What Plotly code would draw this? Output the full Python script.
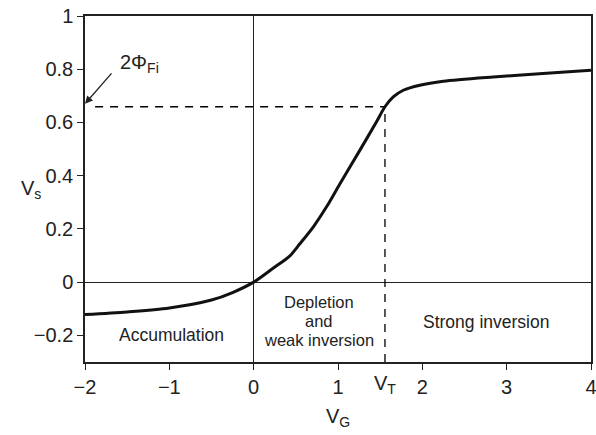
import plotly.graph_objects as go

# Data
vg = [-2.0, -1.5, -1.0, -0.5, -0.25, 0.0, 0.23, 0.43, 0.55, 0.71, 0.866, 1.02, 1.26, 1.457, 1.557,
      1.655, 1.774, 1.97, 2.25, 2.84, 3.43, 4.0]
vs = [-0.122, -0.112, -0.097, -0.067, -0.039, 0.0, 0.052, 0.099, 0.145, 0.209, 0.284, 0.368, 0.496, 0.603, 0.659,
      0.696, 0.721, 0.74, 0.755, 0.771, 0.784, 0.796]
VT = 1.557
PHI2 = 0.659
xticks = [-2, -1, 0, 1, 2, 3, 4]
yticks = [-0.2, 0, 0.2, 0.4, 0.6, 0.8, 1]
ytick_text = ["\u22120.2", "0", "0.2", "0.4", "0.6", "0.8", "1"]
xtick_text = ["\u22122", "\u22121", "0", "1", "2", "3", "4"]

font = "Liberation Sans, Arial, sans-serif"

fig = go.Figure()
# dashed guides
fig.add_trace(go.Scatter(x=[-1.88, VT], y=[PHI2, PHI2], mode="lines",
                         line=dict(color="black", width=1.3, dash="8px,7px"), hoverinfo="skip"))
fig.add_trace(go.Scatter(x=[VT, VT], y=[-0.3, PHI2], mode="lines",
                         line=dict(color="black", width=1.3, dash="8px,7px"), hoverinfo="skip"))
# main curve
fig.add_trace(go.Scatter(x=vg, y=vs, mode="lines",
                         line=dict(color="#111111", width=3, shape="spline", smoothing=0.8),
                         hoverinfo="skip"))

fig.update_layout(
    width=596, height=435,
    margin=dict(l=85, r=5, t=16, b=73),
    plot_bgcolor="white", paper_bgcolor="white",
    showlegend=False,
    font=dict(family=font, size=17, color="#222222"),
)
axis_common = dict(ticks="outside", ticklen=6, tickcolor="#222", showline=True, linecolor="#222",
                   linewidth=1.5, mirror=True, showgrid=False, zeroline=True, zerolinecolor="#222",
                   zerolinewidth=1.2, tickfont=dict(size=20), automargin=False,
                   ticklabeloverflow="allow")
fig.update_xaxes(range=[-2, 4], tickvals=xticks, ticktext=xtick_text, **axis_common)
fig.update_yaxes(range=[-0.3, 1], tickvals=yticks, ticktext=ytick_text, **axis_common)

lab = dict(showarrow=False, font=dict(size=17.5))
lab2 = dict(showarrow=False, font=dict(size=16.5))
ann = [
    dict(x=-0.974, y=-0.198, text="Accumulation", **lab),
    dict(x=0.78, y=-0.074, text="Depletion", **lab2),
    dict(x=0.78, y=-0.145, text="and", **lab2),
    dict(x=0.78, y=-0.216, text="weak inversion", **lab2),
    dict(x=2.755, y=-0.149, text="Strong inversion", **lab),
    dict(x=-1.35, y=0.82, text="2\u03a6<sub>Fi</sub>", showarrow=False, font=dict(size=20)),
    dict(x=-2, y=0.67, ax=-1.67, ay=0.79, xref="x", yref="y", axref="x", ayref="y",
         text="", showarrow=True, arrowhead=2, arrowsize=1.2, arrowwidth=1.3, arrowcolor="#222"),
    dict(x=VT, y=-0.3, yshift=-22, text="V<sub>T</sub>", showarrow=False, font=dict(size=20)),
    dict(x=0.5, y=0, xref="paper", yref="paper", yshift=-70, text="V<sub>G</sub>", showarrow=False,
         font=dict(size=20)),
    dict(x=0, y=0.5, xref="paper", yref="paper", xshift=-66, text="V<sub>s</sub>", showarrow=False,
         font=dict(size=20)),
]
fig.update_layout(annotations=ann)

fig.write_html("out.html", config={"displayModeBar": False},
               post_script="document.body.style.margin='0';document.body.style.padding='0';")
